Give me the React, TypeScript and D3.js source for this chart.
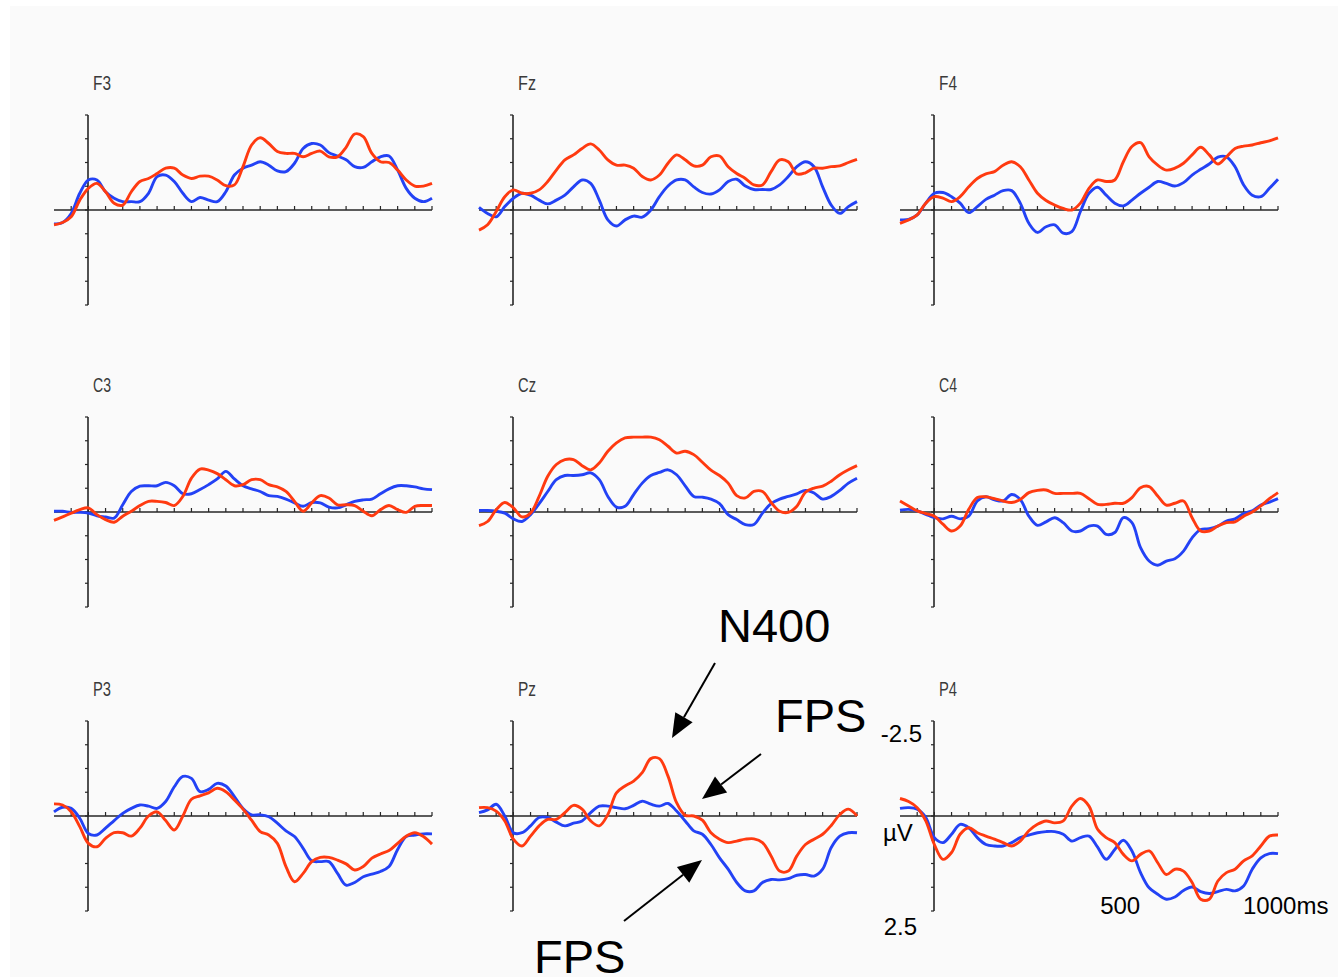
import React from "react";
import * as d3 from "d3";

// sampling grid in ms (every 25 ms, -100..1000)
const sampleTimes = [
  -100, -75, -50, -25, 0, 25, 50, 75, 100, 125, 150, 175, 200, 225, 250, 275, 300, 325, 350, 375, 400,
  425, 450, 475, 500, 525, 550, 575, 600, 625, 650, 675, 700, 725, 750, 775, 800, 825, 850, 875, 900,
  925, 950, 975, 1000,
];

// amplitudes in µV (negative plotted up)
const f3Red = [0.39, 0.33, 0.18, -0.26, -0.57, -0.7, -0.48, -0.18, -0.13, -0.48, -0.75, -0.83, -0.96, -1.1, -1.1, -0.92, -0.83, -0.89, -0.89, -0.79, -0.64, -0.66, -1.14, -1.71, -1.9, -1.75, -1.54, -1.49, -1.49, -1.4, -1.49, -1.55, -1.4, -1.4, -1.65, -2.0, -1.93, -1.49, -1.27, -1.25, -1.05, -0.79, -0.63, -0.63, -0.7];
const f3Blue = [0.37, 0.33, 0.09, -0.44, -0.79, -0.79, -0.48, -0.31, -0.22, -0.22, -0.22, -0.44, -0.88, -0.92, -0.75, -0.44, -0.22, -0.33, -0.26, -0.22, -0.48, -0.92, -1.1, -1.18, -1.27, -1.18, -1.03, -1.01, -1.23, -1.62, -1.75, -1.71, -1.51, -1.42, -1.32, -1.14, -1.12, -1.27, -1.4, -1.42, -1.05, -0.57, -0.31, -0.22, -0.31];

const fzRed = [0.53, 0.39, 0.04, -0.35, -0.53, -0.44, -0.44, -0.53, -0.75, -1.05, -1.32, -1.45, -1.62, -1.74, -1.58, -1.32, -1.18, -1.18, -1.1, -0.88, -0.79, -0.92, -1.23, -1.45, -1.32, -1.16, -1.18, -1.4, -1.42, -1.14, -0.96, -0.83, -0.66, -0.66, -1.01, -1.32, -1.27, -0.95, -0.98, -1.1, -1.1, -1.14, -1.16, -1.25, -1.33];
const fzBlue = [-0.07, 0.09, 0.18, -0.09, -0.31, -0.44, -0.39, -0.26, -0.16, -0.26, -0.39, -0.61, -0.79, -0.7, -0.26, 0.26, 0.42, 0.26, 0.16, 0.19, 0.0, -0.35, -0.63, -0.79, -0.79, -0.61, -0.46, -0.42, -0.53, -0.75, -0.81, -0.63, -0.54, -0.54, -0.54, -0.66, -0.88, -1.14, -1.27, -1.14, -0.61, -0.13, 0.09, -0.09, -0.22];

const f4Red = [0.35, 0.26, 0.13, -0.18, -0.35, -0.31, -0.22, -0.35, -0.61, -0.83, -0.95, -1.01, -1.18, -1.27, -1.14, -0.79, -0.44, -0.25, -0.13, -0.04, 0.0, -0.18, -0.57, -0.79, -0.75, -0.79, -1.27, -1.67, -1.77, -1.4, -1.18, -1.05, -1.1, -1.23, -1.45, -1.65, -1.45, -1.21, -1.4, -1.62, -1.68, -1.71, -1.77, -1.82, -1.9];
const f4Blue = [0.26, 0.25, 0.13, -0.18, -0.44, -0.46, -0.35, -0.18, 0.07, -0.09, -0.28, -0.39, -0.51, -0.51, -0.18, 0.35, 0.59, 0.44, 0.39, 0.61, 0.57, 0.04, -0.44, -0.6, -0.39, -0.18, -0.11, -0.26, -0.44, -0.6, -0.75, -0.7, -0.63, -0.72, -0.92, -1.07, -1.21, -1.39, -1.4, -1.14, -0.66, -0.39, -0.35, -0.57, -0.81];

const c3Red = [0.22, 0.13, 0.03, -0.06, -0.11, 0.07, 0.2, 0.27, 0.11, -0.02, -0.17, -0.28, -0.28, -0.25, -0.17, -0.41, -0.89, -1.13, -1.1, -1.01, -0.85, -0.69, -0.72, -0.85, -0.85, -0.72, -0.66, -0.54, -0.28, -0.02, -0.24, -0.43, -0.37, -0.19, -0.19, -0.17, -0.02, 0.1, -0.06, -0.17, -0.06, 0.01, -0.15, -0.17, -0.17];
const c3Blue = [-0.02, -0.02, 0.01, 0.01, 0.03, 0.1, 0.13, 0.16, -0.19, -0.54, -0.68, -0.69, -0.69, -0.78, -0.69, -0.48, -0.48, -0.59, -0.72, -0.87, -1.07, -0.87, -0.69, -0.61, -0.54, -0.43, -0.41, -0.34, -0.24, -0.15, -0.25, -0.24, -0.13, -0.11, -0.19, -0.28, -0.32, -0.34, -0.48, -0.61, -0.69, -0.69, -0.66, -0.61, -0.59];

const czRed = [0.36, 0.25, -0.06, -0.25, -0.11, 0.13, 0.03, -0.41, -0.94, -1.25, -1.38, -1.38, -1.22, -1.11, -1.29, -1.6, -1.82, -1.95, -1.97, -1.97, -1.97, -1.9, -1.73, -1.55, -1.6, -1.51, -1.31, -1.1, -0.96, -0.76, -0.43, -0.37, -0.54, -0.54, -0.25, -0.02, 0.01, -0.15, -0.52, -0.63, -0.68, -0.81, -0.98, -1.11, -1.22];
const czBlue = [-0.04, -0.04, -0.02, 0.03, 0.18, 0.25, 0.07, -0.22, -0.54, -0.85, -0.96, -0.96, -0.98, -1.03, -0.85, -0.41, -0.13, -0.15, -0.46, -0.76, -0.96, -1.04, -1.11, -0.98, -0.69, -0.41, -0.39, -0.34, -0.22, 0.07, 0.2, 0.33, 0.33, 0.03, -0.22, -0.34, -0.41, -0.48, -0.57, -0.5, -0.34, -0.41, -0.57, -0.76, -0.89];

const c4Red = [-0.29, -0.16, -0.03, 0.04, 0.11, 0.32, 0.5, 0.37, -0.07, -0.38, -0.4, -0.35, -0.29, -0.25, -0.33, -0.51, -0.57, -0.58, -0.49, -0.49, -0.49, -0.49, -0.35, -0.2, -0.2, -0.23, -0.23, -0.38, -0.64, -0.67, -0.42, -0.18, -0.23, -0.29, 0.15, 0.5, 0.5, 0.37, 0.28, 0.26, 0.11, 0.0, -0.16, -0.35, -0.51];
const c4Blue = [-0.05, -0.07, -0.03, 0.06, 0.15, 0.18, 0.11, 0.18, 0.11, -0.29, -0.4, -0.32, -0.29, -0.46, -0.33, 0.11, 0.35, 0.26, 0.15, 0.28, 0.5, 0.5, 0.37, 0.37, 0.59, 0.54, 0.15, 0.28, 0.94, 1.29, 1.4, 1.29, 1.23, 1.03, 0.68, 0.46, 0.44, 0.37, 0.24, 0.18, 0.04, -0.03, -0.18, -0.26, -0.35];

const p3Red = [-0.32, -0.29, -0.11, 0.28, 0.72, 0.81, 0.59, 0.44, 0.44, 0.53, 0.32, 0.0, -0.11, 0.12, 0.37, 0.0, -0.44, -0.53, -0.61, -0.73, -0.64, -0.42, -0.18, 0.11, 0.41, 0.5, 0.72, 1.33, 1.73, 1.51, 1.2, 1.09, 1.09, 1.16, 1.26, 1.42, 1.33, 1.11, 1.0, 0.91, 0.72, 0.53, 0.44, 0.54, 0.74];
const p3Blue = [-0.11, -0.23, -0.2, 0.06, 0.46, 0.5, 0.32, 0.12, -0.07, -0.2, -0.29, -0.26, -0.2, -0.38, -0.77, -1.04, -0.99, -0.64, -0.7, -0.86, -0.79, -0.51, -0.2, -0.03, -0.03, 0.02, 0.19, 0.39, 0.54, 0.85, 1.18, 1.2, 1.2, 1.51, 1.82, 1.75, 1.6, 1.53, 1.46, 1.33, 0.88, 0.54, 0.5, 0.47, 0.47];

const pzRed = [-0.22, -0.22, -0.13, 0.13, 0.61, 0.79, 0.53, 0.26, 0.09, 0.09, -0.09, -0.28, -0.18, 0.13, 0.26, -0.04, -0.61, -0.79, -0.92, -1.14, -1.51, -1.51, -1.05, -0.35, -0.02, 0.0, 0.11, 0.44, 0.61, 0.7, 0.66, 0.61, 0.6, 0.7, 1.05, 1.45, 1.45, 1.05, 0.75, 0.61, 0.48, 0.25, -0.04, -0.18, 0.0];
const pzBlue = [-0.09, -0.16, -0.31, 0.0, 0.44, 0.44, 0.26, 0.04, 0.04, 0.16, 0.26, 0.19, 0.13, -0.09, -0.26, -0.26, -0.22, -0.19, -0.28, -0.39, -0.31, -0.26, -0.33, -0.13, 0.13, 0.39, 0.48, 0.75, 1.1, 1.4, 1.75, 1.97, 1.97, 1.75, 1.67, 1.68, 1.65, 1.56, 1.54, 1.58, 1.4, 0.83, 0.53, 0.44, 0.44];

const p4Red = [-0.46, -0.38, -0.22, 0.13, 0.75, 1.14, 0.96, 0.48, 0.31, 0.44, 0.53, 0.61, 0.7, 0.79, 0.66, 0.39, 0.22, 0.13, 0.18, 0.13, -0.26, -0.46, -0.26, 0.35, 0.57, 0.7, 1.01, 1.18, 1.01, 0.92, 1.23, 1.54, 1.4, 1.45, 1.75, 2.19, 2.19, 1.71, 1.49, 1.4, 1.18, 1.05, 0.79, 0.53, 0.5];
const p4Blue = [-0.2, -0.22, -0.18, 0.04, 0.57, 0.7, 0.48, 0.22, 0.31, 0.57, 0.75, 0.79, 0.79, 0.7, 0.57, 0.5, 0.44, 0.41, 0.41, 0.48, 0.66, 0.57, 0.53, 0.82, 1.14, 0.88, 0.64, 0.92, 1.49, 1.89, 2.06, 2.19, 2.13, 1.96, 1.87, 1.99, 2.04, 1.99, 1.93, 1.97, 1.84, 1.4, 1.1, 0.99, 0.99];

const electrodeNames = ["F3", "Fz", "F4", "C3", "Cz", "C4", "P3", "Pz", "P4"];
const redSeries = [f3Red, fzRed, f4Red, c3Red, czRed, c4Red, p3Red, pzRed, p4Red];
const blueSeries = [f3Blue, fzBlue, f4Blue, c3Blue, czBlue, c4Blue, p3Blue, pzBlue, p4Blue];

const yTickValues = [-2.5, -1.875, -1.25, -0.625, 0, 0.625, 1.25, 1.875, 2.5];
const xTickValues = d3.range(-50, 1001, 50);
const scaleLabels = { top: "-2.5", unit: "µV", bottom: "2.5", mid: "500", end: "1000ms" };

const W = 1338;
const H = 977;
const colAxisX = [88, 513, 934];
const rowZeroY = [210, 512, 816];
const RED = "#ff3a10";
const BLUE = "#2342f5";
const AXIS = "#262626";

function Panel({ idx }: { idx: number }) {
  const ax = colAxisX[idx % 3];
  const zy = rowZeroY[Math.floor(idx / 3)];
  const x = d3.scaleLinear().domain([-100, 1000]).range([ax - 34, ax + 344]);
  const y = d3.scaleLinear().domain([-2.5, 2.5]).range([zy - 95, zy + 95]);
  const line = d3
    .line<number>()
    .x((_, i) => x(sampleTimes[i]))
    .y((v) => y(v))
    .curve(d3.curveCatmullRom.alpha(0.5));
  const isLast = idx === 8;
  return (
    <g>
      <text
        x={ax + 5}
        y={zy - 120}
        fontFamily="Liberation Sans, Arial, sans-serif"
        fontSize={21}
        fill="#3a3a3a"
        textLength={18}
        lengthAdjust="spacingAndGlyphs"
      >
        {electrodeNames[idx]}
      </text>
      {/* y axis */}
      <line x1={ax} x2={ax} y1={y(-2.5)} y2={y(2.5)} stroke={AXIS} strokeWidth={1.6} />
      {yTickValues.map((t) => (
        <line key={t} x1={ax - 3} x2={ax} y1={y(t)} y2={y(t)} stroke={AXIS} strokeWidth={1.2} />
      ))}
      {/* x axis */}
      <line x1={x(-100)} x2={x(1000)} y1={y(0)} y2={y(0)} stroke={AXIS} strokeWidth={1.6} />
      {xTickValues.map((t) => (
        <line key={t} x1={x(t)} x2={x(t)} y1={y(0) - 4} y2={y(0)} stroke={AXIS} strokeWidth={1.2} />
      ))}
      <path d={line(blueSeries[idx]) || ""} fill="none" stroke={BLUE} strokeWidth={2.9} strokeLinejoin="round" />
      <path d={line(redSeries[idx]) || ""} fill="none" stroke={RED} strokeWidth={2.9} strokeLinejoin="round" />
      {isLast && (
        <g fontFamily="Liberation Sans, Arial, sans-serif" fontSize={24} fill="#000">
          <text x={ax - 12} y={y(-2.5) + 21} textAnchor="end">{scaleLabels.top}</text>
          <text x={ax - 51} y={y(0) + 25}>{scaleLabels.unit}</text>
          <text x={ax - 17} y={y(2.5) + 24} textAnchor="end">{scaleLabels.bottom}</text>
          <text x={x(500) - 6} y={y(0) + 98}>{scaleLabels.mid}</text>
          <text x={x(1000) - 35} y={y(0) + 98}>{scaleLabels.end}</text>
        </g>
      )}
    </g>
  );
}

function Arrow({ x1, y1, x2, y2 }: { x1: number; y1: number; x2: number; y2: number }) {
  const a = Math.atan2(y2 - y1, x2 - x1);
  const len = 24;
  const hw = 10;
  const bx = x2 - len * Math.cos(a);
  const by = y2 - len * Math.sin(a);
  const px = -Math.sin(a) * hw;
  const py = Math.cos(a) * hw;
  return (
    <g>
      <line x1={x1} y1={y1} x2={bx} y2={by} stroke="#000" strokeWidth={2} />
      <polygon points={`${x2},${y2} ${bx + px},${by + py} ${bx - px},${by - py}`} fill="#000" />
    </g>
  );
}

const annotations = [
  { text: "N400", x: 718, y: 642 },
  { text: "FPS", x: 775, y: 732 },
  { text: "FPS", x: 534, y: 973 },
];
const arrows = [
  { x1: 715, y1: 663, x2: 672, y2: 738 },
  { x1: 761, y1: 754, x2: 702, y2: 799 },
  { x1: 624, y1: 921, x2: 702, y2: 860 },
];

export default function App() {
  return (
    <svg
      width={W}
      height={H}
      style={{ position: "absolute", left: 0, top: 0, display: "block" }}
    >
      <rect x={0} y={0} width={W} height={H} fill="#ffffff" />
      <rect x={10} y={6} width={W - 10} height={H - 6} fill="#fafafa" />
      {electrodeNames.map((_, i) => (
        <Panel key={i} idx={i} />
      ))}
      {arrows.map((a, i) => (
        <Arrow key={i} {...a} />
      ))}
      {annotations.map((a, i) => (
        <text key={i} x={a.x} y={a.y} fontFamily="Liberation Sans, Arial, sans-serif" fontSize={47} fill="#000">
          {a.text}
        </text>
      ))}
    </svg>
  );
}
